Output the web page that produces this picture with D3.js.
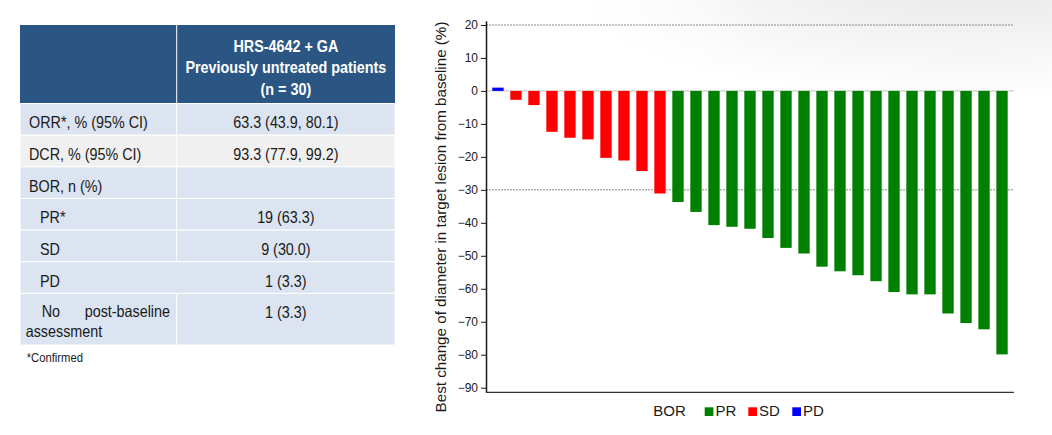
<!DOCTYPE html>
<html>
<head>
<meta charset="utf-8">
<script src="https://cdn.jsdelivr.net/npm/d3@7"></script>
<style>
  body { margin: 0; background: #fff; }
  svg { display: block; }
  .tbl text { font-family: "Liberation Sans", Arial, sans-serif; fill: #1a1a1a; }
  .chart text { font-family: "Liberation Sans", Arial, sans-serif; fill: #1a1a1a; }
</style>
</head>
<body>
<div class="chart-wrap"></div>
<script>
// ---- data ----
const headerLines = ["HRS-4642 + GA", "Previously untreated patients", "(n = 30)"];
const rowLabels = ["ORR*, % (95% CI)", "DCR, % (95% CI)", "BOR, n (%)", "PR*", "SD", "PD", "No post-baseline assessment"];
const rowValues = ["63.3 (43.9, 80.1)", "93.3 (77.9, 99.2)", "", "19 (63.3)", "9 (30.0)", "1 (3.3)", "1 (3.3)"];
const footnote = "*Confirmed";

const changes = [1, -2.7, -4.3, -12.4, -14.2, -14.7, -20.3, -21.1, -24.3, -31.1,
  -33.7, -36.7, -40.7, -41.2, -41.8, -44.6, -47.6, -49.3, -53.3, -54.7,
  -55.9, -57.7, -61.0, -61.7, -61.7, -67.5, -70.4, -72.3, -79.9];
const responses = ["PD", "SD", "SD", "SD", "SD", "SD", "SD", "SD", "SD", "SD",
  "PR", "PR", "PR", "PR", "PR", "PR", "PR", "PR", "PR", "PR",
  "PR", "PR", "PR", "PR", "PR", "PR", "PR", "PR", "PR"];
const legendKeys = ["PR", "SD", "PD"];
const yTicks = [20, 10, 0, -10, -20, -30, -40, -50, -60, -70, -80, -90];
const gridValues = [20, -30];

const W = 1052, H = 435;
const svg = d3.select(".chart-wrap").append("svg")
    .attr("width", W).attr("height", H);

// faint slide shading top right
const defs = svg.append("defs");
const grad = defs.append("radialGradient").attr("id", "shade")
    .attr("cx", 0.85).attr("cy", -0.2).attr("r", 0.9);
grad.append("stop").attr("offset", "0%").attr("stop-color", "#e6e6e6");
grad.append("stop").attr("offset", "100%").attr("stop-color", "#ffffff");
const fade = defs.append("linearGradient").attr("id", "fadeL");
fade.append("stop").attr("offset", "0%").attr("stop-color", "#fff").attr("stop-opacity", 1);
fade.append("stop").attr("offset", "40%").attr("stop-color", "#fff").attr("stop-opacity", 0);
svg.append("rect").attr("x", 560).attr("y", 0).attr("width", 492).attr("height", 140)
    .attr("fill", "url(#shade)");
svg.append("rect").attr("x", 560).attr("y", 0).attr("width", 492).attr("height", 140)
    .attr("fill", "url(#fadeL)");

// condensed text: the slide used a narrow face, so squeeze Liberation Sans horizontally
function narrowText(parent, x, y, str, size, anchor, sx) {
    return parent.append("g")
        .attr("transform", `translate(${x},${y}) scale(${sx || 0.87},1)`)
        .append("text")
        .attr("text-anchor", anchor || "start")
        .style("font-size", size + "px")
        .text(str);
}

// ---- table ----
const tbl = svg.append("g").attr("class", "tbl");
const tx0 = 20, tx1 = 395, colX = 176.7;
const headTop = 25, headBot = 103.5, rowH = 31.65, lastH = 51.6;
const valX = (colX + tx1) / 2;

tbl.append("rect").attr("x", tx0).attr("y", headTop)
    .attr("width", tx1 - tx0).attr("height", headBot - headTop).attr("fill", "#2b5683");
tbl.append("line").attr("x1", colX).attr("x2", colX).attr("y1", headTop).attr("y2", headBot)
    .attr("stroke", "#fff").attr("stroke-width", 1);

headerLines.forEach((d, i) => {
    narrowText(tbl, valX, 51.5 + i * 21.5, d, 16.5, "middle")
        .style("fill", "#fff").style("font-weight", "bold");
});

const rowTop = i => headBot + i * rowH;
const rowHeight = i => i === rowLabels.length - 1 ? lastH : rowH;

const rows = tbl.selectAll("g.row").data(rowLabels).enter().append("g").attr("class", "row");
rows.append("rect")
    .attr("x", tx0).attr("y", (d, i) => rowTop(i))
    .attr("width", tx1 - tx0).attr("height", (d, i) => rowHeight(i))
    .attr("fill", (d, i) => i === 1 ? "#f0f0f0" : "#dbe4f0")
    .attr("stroke", "#fff").attr("stroke-width", 1);

rows.each(function(d, i) {
    const g = d3.select(this);
    const base = rowTop(i) + 24.8;
    const indent = i >= 3 ? 40 : 29;
    // column divider (absent in the PD row in the source)
    if (i !== 5) {
        g.append("line").attr("x1", colX).attr("x2", colX)
            .attr("y1", rowTop(i)).attr("y2", rowTop(i) + rowHeight(i))
            .attr("stroke", "#fff").attr("stroke-width", 1);
    }
    if (i === rowLabels.length - 1) {
        // justified two-line cell
        const words = d.split(" ");
        narrowText(g, 41.7, base - 1.5, words[0], 16.5);
        narrowText(g, 170, base - 1.5, words[1], 16.5, "end");
        narrowText(g, 25.7, base + 18.5, words[2], 16.5);
    } else {
        narrowText(g, indent, base, d, 16.5);
    }
    narrowText(g, valX, base, rowValues[i], 16.5, "middle");
});

narrowText(tbl, 26.7, 361.7, footnote, 12.5, "start", 0.9);

// ---- waterfall chart ----
const chart = svg.append("g").attr("class", "chart");
const plotL = 486, plotR = 1014, plotT = 20.7, plotB = 392.3;

const x = d3.scaleBand().domain(d3.range(changes.length))
    .range([plotL, plotR]).paddingInner(0.37).paddingOuter(0.35);
const y = d3.scaleLinear().domain([-91.4, 21.3]).range([plotB, plotT]);
const color = d3.scaleOrdinal().domain(legendKeys).range(["#008000", "#ff0000", "#0000ff"]);

chart.selectAll("line.grid").data(gridValues).enter().append("line")
    .attr("class", "grid")
    .attr("x1", plotL).attr("x2", plotR)
    .attr("y1", d => y(d)).attr("y2", d => y(d))
    .attr("stroke", "#8a8a8a").attr("stroke-width", 1).attr("stroke-dasharray", "2,1");
chart.append("line")
    .attr("x1", plotL).attr("x2", plotR).attr("y1", y(0)).attr("y2", y(0))
    .attr("stroke", "#c4c4c4").attr("stroke-width", 1);

chart.selectAll("rect.bar").data(changes).enter().append("rect")
    .attr("class", "bar")
    .attr("x", (d, i) => x(i))
    .attr("width", x.bandwidth())
    .attr("y", d => y(Math.max(0, d)))
    .attr("height", d => Math.abs(y(d) - y(0)))
    .attr("fill", (d, i) => color(responses[i]));

const yAxis = chart.append("g")
    .attr("transform", `translate(${plotL},0)`)
    .call(d3.axisLeft(y).tickValues(yTicks).tickSize(5).tickPadding(3).tickSizeOuter(0));
yAxis.select(".domain").attr("stroke", "#1a1a1a").attr("stroke-width", 1.5);
yAxis.selectAll(".tick line").attr("stroke", "#1a1a1a");
yAxis.selectAll(".tick text").style("font-size", "12px").style("font-family", "Liberation Sans, Arial, sans-serif").attr("fill", "#1a1a1a");

chart.append("line")
    .attr("x1", plotL).attr("x2", plotR).attr("y1", plotB).attr("y2", plotB)
    .attr("stroke", "#333").attr("stroke-width", 1.2);

chart.append("text")
    .attr("transform", `translate(446, ${(plotT + plotB) / 2 + 10.5}) rotate(-90)`)
    .attr("text-anchor", "middle")
    .style("font-size", "15.2px")
    .text("Best change of diameter in target lesion from baseline (%)");

// legend
const legend = chart.append("g");
legend.append("text").attr("x", 653.3).attr("y", 416).style("font-size", "15px").text("BOR");
const legX = [704.7, 748.3, 792.3];
const items = legend.selectAll("g.item").data(legendKeys).enter().append("g")
    .attr("transform", (d, i) => `translate(${legX[i]},0)`);
items.append("rect").attr("x", 0).attr("y", 407.3).attr("width", 8.7).attr("height", 8.7)
    .attr("fill", d => color(d));
items.append("text").attr("x", 10.8).attr("y", 416).style("font-size", "15px").text(d => d);
</script>
</body>
</html>
